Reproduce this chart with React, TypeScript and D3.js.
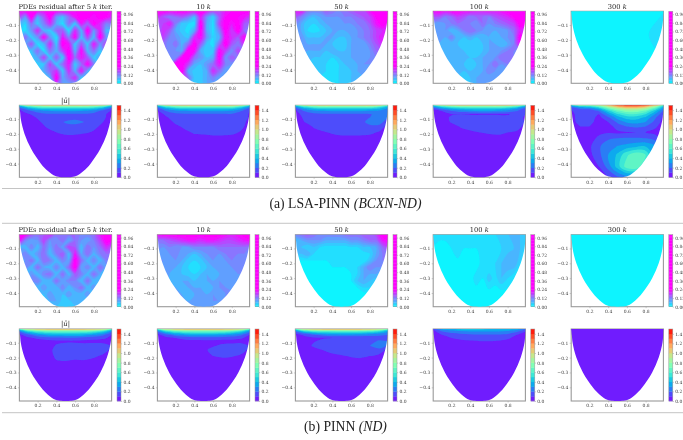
import * as d3 from "d3";
import { useEffect, useRef } from "react";

// residual fields, in hundredths, 16 columns across x = 0..1 and 12 rows down to y = -0.5
const resLsa5k = [
  [24, 26, 26, 26, 24, 26, 26, 26, 26, 24, 26, 26, 26, 26, 26, 22],
  [18, 10, 26, 8, 16, 26, 10, 6, 14, 22, 26, 26, 22, 26, 24, 20],
  [8, 4, 14, 5, 12, 20, 8, 3, 14, 5, 22, 14, 26, 20, 12, 14],
  [5, 3, 10, 20, 7, 5, 14, 16, 3, 20, 7, 26, 10, 22, 7, 8],
  [5, 14, 5, 10, 24, 10, 3, 22, 12, 24, 5, 18, 6, 26, 10, 8],
  [5, 8, 16, 3, 7, 20, 5, 26, 22, 5, 16, 5, 22, 10, 18, 7],
  [5, 6, 6, 14, 3, 14, 7, 18, 26, 7, 24, 7, 14, 5, 14, 6],
  [5, 5, 5, 8, 18, 5, 16, 5, 26, 14, 22, 16, 5, 8, 5, 5],
  [5, 5, 5, 5, 6, 18, 5, 14, 22, 5, 14, 24, 12, 5, 5, 5],
  [5, 5, 5, 5, 8, 14, 20, 5, 20, 8, 22, 8, 5, 5, 5, 5],
  [5, 5, 5, 5, 5, 8, 26, 8, 14, 20, 5, 8, 5, 5, 5, 5],
  [5, 5, 5, 5, 5, 5, 16, 10, 8, 8, 5, 5, 5, 5, 5, 5],
];
const resLsa10k = [
  [26, 26, 26, 26, 26, 26, 26, 26, 24, 20, 18, 22, 24, 24, 26, 26],
  [20, 16, 12, 14, 16, 12, 6, 22, 10, 4, 16, 24, 26, 24, 22, 18],
  [14, 18, 22, 12, 5, 4, 3, 26, 8, 3, 18, 26, 22, 26, 16, 14],
  [12, 20, 16, 8, 5, 3, 8, 26, 8, 3, 12, 26, 18, 26, 14, 12],
  [12, 18, 12, 10, 7, 5, 20, 24, 10, 4, 8, 24, 20, 16, 24, 12],
  [12, 14, 10, 14, 7, 14, 26, 16, 5, 3, 14, 26, 16, 12, 20, 12],
  [12, 14, 10, 10, 8, 26, 24, 8, 4, 5, 24, 18, 10, 18, 12, 10],
  [12, 12, 10, 10, 24, 26, 14, 10, 6, 8, 26, 10, 16, 12, 10, 10],
  [12, 12, 12, 26, 26, 18, 8, 6, 10, 14, 22, 12, 10, 10, 10, 10],
  [12, 12, 12, 26, 26, 8, 5, 5, 8, 20, 14, 8, 8, 8, 8, 8],
  [12, 12, 12, 12, 20, 14, 5, 5, 8, 12, 8, 8, 8, 8, 8, 8],
  [10, 10, 10, 10, 10, 8, 5, 5, 8, 8, 8, 8, 8, 8, 8, 8],
];
const resLsa50k = [
  [22, 24, 14, 12, 12, 16, 14, 12, 14, 16, 18, 18, 24, 26, 26, 26],
  [16, 12, 8, 6, 8, 10, 10, 10, 12, 12, 14, 16, 18, 24, 26, 26],
  [12, 8, 4, 4, 6, 8, 8, 8, 10, 10, 12, 12, 16, 22, 26, 22],
  [10, 8, 4, 3, 4, 6, 8, 8, 8, 8, 10, 12, 14, 18, 20, 20],
  [10, 10, 6, 6, 6, 8, 8, 6, 6, 8, 10, 12, 14, 18, 22, 20],
  [10, 10, 8, 8, 8, 8, 6, 5, 5, 8, 8, 8, 12, 16, 20, 20],
  [8, 8, 8, 8, 8, 6, 8, 6, 6, 8, 8, 8, 10, 14, 16, 14],
  [8, 8, 6, 6, 6, 5, 4, 6, 6, 8, 8, 8, 10, 12, 12, 12],
  [6, 6, 6, 5, 5, 4, 3, 4, 6, 6, 8, 10, 10, 10, 10, 10],
  [6, 6, 6, 5, 5, 4, 3, 4, 5, 6, 8, 8, 8, 8, 8, 8],
  [6, 6, 6, 5, 4, 3, 3, 4, 5, 6, 6, 8, 8, 8, 8, 8],
  [6, 6, 6, 5, 4, 3, 3, 4, 5, 6, 6, 8, 8, 8, 8, 8],
];
const resLsa100k = [
  [24, 26, 24, 26, 26, 24, 24, 22, 22, 24, 22, 24, 26, 26, 26, 26],
  [16, 16, 12, 14, 18, 16, 12, 14, 14, 12, 16, 18, 20, 24, 26, 26],
  [10, 8, 10, 12, 14, 12, 12, 10, 14, 10, 12, 14, 16, 18, 26, 24],
  [8, 8, 10, 6, 8, 12, 14, 12, 10, 8, 8, 8, 10, 14, 22, 18],
  [8, 8, 8, 12, 6, 6, 8, 6, 6, 8, 6, 8, 10, 12, 26, 16],
  [8, 8, 6, 6, 6, 4, 4, 4, 6, 8, 8, 6, 8, 12, 22, 14],
  [8, 6, 6, 8, 8, 6, 4, 4, 6, 8, 8, 10, 12, 12, 10, 10],
  [6, 6, 6, 6, 6, 6, 6, 6, 8, 8, 10, 14, 14, 12, 8, 8],
  [6, 6, 6, 6, 6, 6, 5, 6, 8, 10, 14, 10, 12, 10, 8, 8],
  [6, 6, 6, 6, 6, 6, 6, 6, 8, 12, 10, 8, 8, 8, 8, 8],
  [6, 6, 6, 6, 6, 5, 6, 8, 8, 8, 8, 8, 8, 8, 8, 8],
  [6, 6, 6, 6, 6, 5, 6, 8, 8, 8, 8, 8, 8, 8, 8, 8],
];
const resLsa300k = [
  [1, 1, 1, 1, 2],
  [1, 1, 1, 1, 4],
  [1, 1, 1, 1, 2],
  [1, 1, 1, 1, 1],
];
const resPinn5k = [
  [24, 26, 18, 14, 16, 22, 14, 12, 14, 14, 12, 12, 14, 22, 26, 26],
  [24, 12, 8, 10, 18, 10, 10, 14, 8, 14, 10, 8, 12, 18, 26, 24],
  [8, 6, 12, 6, 14, 8, 14, 8, 18, 16, 6, 14, 10, 14, 20, 16],
  [8, 12, 6, 10, 14, 6, 12, 16, 6, 22, 8, 14, 7, 12, 14, 14],
  [6, 10, 14, 6, 14, 12, 6, 12, 8, 26, 14, 6, 12, 6, 12, 10],
  [6, 12, 6, 14, 8, 6, 12, 6, 14, 26, 8, 12, 6, 14, 8, 8],
  [6, 6, 10, 6, 12, 14, 6, 14, 6, 16, 12, 6, 14, 8, 6, 6],
  [6, 6, 10, 12, 6, 6, 14, 8, 12, 12, 6, 14, 6, 6, 6, 6],
  [6, 6, 6, 6, 10, 6, 6, 12, 6, 10, 14, 6, 10, 6, 6, 6],
  [6, 6, 6, 6, 6, 10, 6, 6, 10, 6, 6, 10, 6, 6, 6, 6],
  [5, 5, 5, 5, 5, 8, 8, 5, 5, 8, 8, 5, 5, 5, 5, 5],
  [5, 5, 5, 5, 5, 5, 5, 5, 5, 5, 5, 5, 5, 5, 5, 5],
];
const resPinn10k = [
  [24, 26, 26, 26, 26, 26, 26, 26, 26, 26, 26, 24, 22, 24, 26, 26],
  [14, 14, 16, 18, 20, 22, 22, 20, 22, 22, 20, 18, 18, 20, 22, 24],
  [10, 10, 12, 10, 10, 10, 12, 12, 12, 12, 14, 14, 14, 14, 14, 12],
  [10, 8, 10, 12, 8, 8, 6, 8, 10, 10, 10, 12, 12, 12, 12, 10],
  [10, 10, 8, 10, 8, 5, 4, 5, 8, 10, 8, 10, 12, 10, 10, 10],
  [10, 8, 10, 8, 6, 4, 3, 4, 6, 8, 10, 8, 10, 12, 10, 10],
  [10, 8, 8, 6, 6, 5, 4, 6, 8, 6, 8, 10, 8, 10, 10, 10],
  [10, 10, 8, 6, 8, 8, 6, 6, 8, 8, 10, 8, 10, 8, 8, 8],
  [10, 10, 10, 8, 6, 8, 8, 8, 6, 8, 10, 10, 8, 8, 8, 8],
  [10, 10, 10, 8, 8, 6, 8, 8, 8, 10, 8, 10, 12, 10, 8, 8],
  [8, 8, 8, 8, 8, 8, 8, 8, 8, 10, 10, 14, 10, 8, 8, 8],
  [8, 8, 8, 8, 8, 8, 8, 8, 8, 8, 8, 8, 8, 8, 8, 8],
];
const resPinn50k = [
  [12, 14, 16, 14, 12, 12, 12, 12, 14, 14, 14, 16, 16, 18, 26, 26],
  [6, 8, 10, 10, 10, 8, 8, 8, 8, 10, 10, 12, 14, 14, 22, 24],
  [8, 6, 4, 6, 4, 3, 3, 3, 3, 4, 4, 6, 6, 8, 14, 18],
  [6, 6, 8, 4, 3, 2, 2, 2, 2, 2, 2, 3, 4, 8, 12, 14],
  [2, 2, 2, 2, 2, 2, 2, 2, 2, 2, 2, 2, 6, 10, 12, 12],
  [1, 1, 1, 1, 1, 1, 2, 2, 2, 2, 4, 8, 12, 10, 10, 10],
  [1, 1, 1, 1, 1, 1, 1, 1, 1, 2, 4, 8, 8, 8, 6, 6],
  [1, 1, 1, 1, 1, 1, 1, 1, 1, 2, 6, 8, 6, 4, 4, 4],
  [1, 1, 1, 1, 1, 1, 1, 1, 1, 1, 2, 4, 4, 3, 2, 2],
  [1, 1, 1, 1, 1, 1, 1, 1, 1, 1, 1, 1, 1, 1, 1, 1],
  [1, 1, 1, 1, 1, 1, 1, 1, 1, 1, 1, 1, 1, 1, 1, 1],
  [1, 1, 1, 1, 1, 1, 1, 1, 1, 1, 1, 1, 1, 1, 1, 1],
];
const resPinn100k = [
  [4, 3, 3, 3, 3, 3, 4, 3, 3, 3, 4, 4, 6, 6, 6, 4],
  [2, 1, 1, 2, 4, 2, 2, 2, 2, 2, 3, 4, 5, 6, 6, 3],
  [1, 1, 1, 1, 1, 1, 1, 1, 3, 2, 4, 6, 8, 8, 4, 2],
  [1, 1, 1, 1, 1, 1, 1, 3, 2, 5, 3, 6, 4, 2, 1, 1],
  [1, 1, 1, 1, 1, 1, 1, 1, 1, 1, 1, 1, 1, 1, 1, 1],
  [1, 1, 1, 1, 1, 1, 1, 1, 1, 1, 1, 1, 1, 1, 1, 1],
];
const resPinn300k = [
  [1, 1],
  [1, 1],
];

// velocity depths for the rows of the velocity fields (the top layer is very thin)
const velocityDepths = [0, 0.007, 0.014, 0.024, 0.034, 0.047, 0.068, 0.09, 0.12, 0.15, 0.19, 0.23, 0.28, 0.34, 0.42, 0.5];

// |u| fields, 11 columns across x = 0..1, rows at velocityDepths
const velLsa5k = [
  [1, 1.4, 1.45, 1.45, 1.45, 1.45, 1.45, 1.45, 1.45, 1.4, 1],
  [0.6, 0.95, 1, 1.05, 1.05, 1.05, 1.05, 1.05, 1, 0.95, 0.6],
  [0.35, 0.65, 0.75, 0.8, 0.8, 0.8, 0.8, 0.8, 0.75, 0.65, 0.35],
  [0.2, 0.4, 0.52, 0.55, 0.55, 0.55, 0.55, 0.55, 0.52, 0.4, 0.2],
  [0.1, 0.27, 0.37, 0.4, 0.42, 0.42, 0.42, 0.4, 0.37, 0.27, 0.1],
  [0.07, 0.15, 0.25, 0.28, 0.3, 0.3, 0.3, 0.28, 0.25, 0.15, 0.08],
  [0.05, 0.09, 0.14, 0.18, 0.18, 0.18, 0.18, 0.18, 0.16, 0.12, 0.06],
  [0.04, 0.06, 0.11, 0.15, 0.15, 0.16, 0.17, 0.17, 0.15, 0.12, 0.05],
  [0.03, 0.05, 0.08, 0.14, 0.17, 0.21, 0.23, 0.2, 0.15, 0.1, 0.05],
  [0.03, 0.05, 0.06, 0.11, 0.15, 0.17, 0.17, 0.16, 0.12, 0.08, 0.05],
  [0.02, 0.04, 0.05, 0.07, 0.1, 0.12, 0.12, 0.11, 0.09, 0.06, 0.04],
  [0.02, 0.03, 0.04, 0.05, 0.06, 0.07, 0.07, 0.06, 0.05, 0.04, 0.03],
  [0.02, 0.03, 0.04, 0.04, 0.05, 0.05, 0.05, 0.05, 0.04, 0.03, 0.03],
  [0.02, 0.03, 0.03, 0.04, 0.04, 0.04, 0.04, 0.04, 0.03, 0.03, 0.02],
  [0.02, 0.02, 0.03, 0.03, 0.03, 0.03, 0.03, 0.03, 0.03, 0.02, 0.02],
  [0.02, 0.02, 0.02, 0.02, 0.02, 0.02, 0.02, 0.02, 0.02, 0.02, 0.02],
];
const velLsa10k = [
  [1, 1.4, 1.45, 1.45, 1.45, 1.45, 1.45, 1.45, 1.45, 1.4, 1],
  [0.6, 0.95, 1, 1.05, 1.05, 1.05, 1.05, 1.05, 1.05, 0.95, 0.6],
  [0.35, 0.65, 0.75, 0.8, 0.8, 0.8, 0.8, 0.8, 0.8, 0.65, 0.35],
  [0.2, 0.42, 0.52, 0.55, 0.55, 0.55, 0.55, 0.55, 0.55, 0.42, 0.2],
  [0.1, 0.3, 0.37, 0.4, 0.42, 0.42, 0.42, 0.42, 0.4, 0.3, 0.12],
  [0.07, 0.2, 0.26, 0.28, 0.3, 0.3, 0.3, 0.3, 0.28, 0.2, 0.1],
  [0.05, 0.12, 0.17, 0.18, 0.18, 0.18, 0.18, 0.18, 0.18, 0.16, 0.08],
  [0.04, 0.09, 0.14, 0.16, 0.17, 0.17, 0.18, 0.18, 0.18, 0.16, 0.08],
  [0.03, 0.05, 0.12, 0.14, 0.15, 0.15, 0.15, 0.15, 0.15, 0.13, 0.07],
  [0.03, 0.05, 0.08, 0.12, 0.14, 0.14, 0.14, 0.14, 0.14, 0.12, 0.06],
  [0.02, 0.04, 0.06, 0.08, 0.11, 0.11, 0.12, 0.12, 0.12, 0.09, 0.05],
  [0.02, 0.03, 0.05, 0.06, 0.07, 0.08, 0.08, 0.08, 0.07, 0.05, 0.04],
  [0.02, 0.03, 0.04, 0.04, 0.05, 0.05, 0.05, 0.05, 0.04, 0.03, 0.03],
  [0.02, 0.03, 0.03, 0.04, 0.04, 0.04, 0.04, 0.04, 0.03, 0.03, 0.02],
  [0.02, 0.02, 0.03, 0.03, 0.03, 0.03, 0.03, 0.03, 0.03, 0.02, 0.02],
  [0.02, 0.02, 0.02, 0.02, 0.02, 0.02, 0.02, 0.02, 0.02, 0.02, 0.02],
];
const velLsa50k = [
  [1, 1.4, 1.45, 1.45, 1.45, 1.45, 1.45, 1.45, 1.45, 1.4, 1],
  [0.6, 0.95, 1, 1.05, 1.05, 1.05, 1.05, 1.05, 1.05, 1, 0.7],
  [0.35, 0.65, 0.75, 0.8, 0.8, 0.8, 0.8, 0.8, 0.8, 0.7, 0.45],
  [0.2, 0.42, 0.52, 0.55, 0.55, 0.55, 0.55, 0.55, 0.55, 0.48, 0.32],
  [0.1, 0.3, 0.37, 0.4, 0.42, 0.42, 0.42, 0.42, 0.4, 0.36, 0.26],
  [0.07, 0.2, 0.26, 0.28, 0.3, 0.3, 0.3, 0.3, 0.28, 0.26, 0.24],
  [0.05, 0.14, 0.17, 0.18, 0.18, 0.18, 0.18, 0.18, 0.19, 0.24, 0.22],
  [0.04, 0.12, 0.15, 0.16, 0.17, 0.17, 0.18, 0.18, 0.2, 0.25, 0.2],
  [0.03, 0.1, 0.14, 0.15, 0.15, 0.15, 0.15, 0.17, 0.23, 0.26, 0.12],
  [0.03, 0.05, 0.11, 0.14, 0.14, 0.14, 0.14, 0.15, 0.18, 0.16, 0.06],
  [0.02, 0.04, 0.07, 0.09, 0.11, 0.12, 0.12, 0.12, 0.12, 0.09, 0.05],
  [0.02, 0.03, 0.05, 0.06, 0.07, 0.08, 0.08, 0.08, 0.07, 0.05, 0.04],
  [0.02, 0.03, 0.04, 0.04, 0.05, 0.05, 0.05, 0.05, 0.04, 0.03, 0.03],
  [0.02, 0.03, 0.03, 0.04, 0.04, 0.04, 0.04, 0.04, 0.03, 0.03, 0.02],
  [0.02, 0.02, 0.03, 0.03, 0.03, 0.03, 0.03, 0.03, 0.03, 0.02, 0.02],
  [0.02, 0.02, 0.02, 0.02, 0.02, 0.02, 0.02, 0.02, 0.02, 0.02, 0.02],
];
const velLsa100k = [
  [1, 1.4, 1.45, 1.45, 1.45, 1.45, 1.45, 1.45, 1.45, 1.4, 1],
  [0.6, 0.95, 1, 1.05, 1.05, 1.05, 1.05, 1.05, 1.05, 0.95, 0.6],
  [0.35, 0.6, 0.72, 0.78, 0.8, 0.8, 0.8, 0.8, 0.75, 0.65, 0.35],
  [0.2, 0.38, 0.48, 0.52, 0.55, 0.55, 0.55, 0.55, 0.5, 0.4, 0.2],
  [0.1, 0.22, 0.32, 0.37, 0.4, 0.42, 0.42, 0.4, 0.36, 0.27, 0.12],
  [0.07, 0.1, 0.18, 0.24, 0.28, 0.3, 0.3, 0.28, 0.25, 0.19, 0.11],
  [0.05, 0.06, 0.09, 0.1, 0.09, 0.09, 0.09, 0.09, 0.09, 0.14, 0.1],
  [0.04, 0.05, 0.12, 0.14, 0.14, 0.14, 0.14, 0.14, 0.13, 0.14, 0.08],
  [0.03, 0.05, 0.11, 0.15, 0.15, 0.16, 0.16, 0.17, 0.17, 0.19, 0.07],
  [0.03, 0.04, 0.06, 0.11, 0.14, 0.15, 0.16, 0.17, 0.18, 0.15, 0.05],
  [0.02, 0.03, 0.04, 0.06, 0.08, 0.1, 0.11, 0.12, 0.1, 0.08, 0.04],
  [0.02, 0.03, 0.04, 0.04, 0.05, 0.06, 0.07, 0.07, 0.06, 0.04, 0.03],
  [0.02, 0.03, 0.03, 0.04, 0.04, 0.05, 0.05, 0.05, 0.04, 0.03, 0.03],
  [0.02, 0.03, 0.03, 0.04, 0.04, 0.04, 0.04, 0.04, 0.03, 0.03, 0.02],
  [0.02, 0.02, 0.03, 0.03, 0.03, 0.03, 0.03, 0.03, 0.03, 0.02, 0.02],
  [0.02, 0.02, 0.02, 0.02, 0.02, 0.02, 0.02, 0.02, 0.02, 0.02, 0.02],
];
const velLsa300k = [
  [0.9, 1.05, 1.1, 1.2, 1.3, 1.45, 1.5, 1.5, 1.45, 1.3, 0.9],
  [0.5, 0.8, 0.8, 0.9, 1.1, 1.3, 1.42, 1.42, 1.35, 1.1, 0.6],
  [0.3, 0.5, 0.55, 0.7, 0.95, 1.15, 1.25, 1.25, 1.15, 0.9, 0.4],
  [0.15, 0.28, 0.32, 0.5, 0.75, 0.95, 1.05, 1.05, 0.95, 0.7, 0.3],
  [0.12, 0.18, 0.2, 0.32, 0.6, 0.8, 0.9, 0.9, 0.8, 0.55, 0.22],
  [0.08, 0.18, 0.15, 0.2, 0.45, 0.65, 0.75, 0.75, 0.65, 0.42, 0.15],
  [0.05, 0.17, 0.15, 0.1, 0.3, 0.48, 0.58, 0.58, 0.5, 0.3, 0.1],
  [0.04, 0.17, 0.15, 0.07, 0.18, 0.35, 0.45, 0.45, 0.38, 0.22, 0.06],
  [0.03, 0.16, 0.14, 0.05, 0.1, 0.22, 0.32, 0.34, 0.3, 0.17, 0.05],
  [0.03, 0.1, 0.1, 0.05, 0.06, 0.14, 0.2, 0.22, 0.2, 0.12, 0.04],
  [0.03, 0.05, 0.05, 0.08, 0.09, 0.08, 0.09, 0.1, 0.1, 0.07, 0.03],
  [0.03, 0.05, 0.06, 0.12, 0.18, 0.2, 0.21, 0.21, 0.2, 0.16, 0.05],
  [0.03, 0.05, 0.08, 0.18, 0.27, 0.3, 0.33, 0.36, 0.38, 0.3, 0.06],
  [0.03, 0.05, 0.07, 0.17, 0.3, 0.42, 0.58, 0.68, 0.6, 0.3, 0.05],
  [0.03, 0.04, 0.05, 0.1, 0.24, 0.45, 0.66, 0.7, 0.45, 0.1, 0.03],
  [0.03, 0.03, 0.04, 0.05, 0.08, 0.15, 0.2, 0.15, 0.06, 0.03, 0.03],
];
const velPinn5k = [
  [1.1, 1.45, 1.48, 1.48, 1.48, 1.48, 1.48, 1.48, 1.48, 1.45, 1.1],
  [0.7, 1.05, 1.12, 1.15, 1.15, 1.15, 1.15, 1.15, 1.12, 1.05, 0.7],
  [0.42, 0.75, 0.88, 0.92, 0.92, 0.92, 0.92, 0.92, 0.88, 0.75, 0.42],
  [0.22, 0.5, 0.62, 0.66, 0.68, 0.68, 0.68, 0.68, 0.62, 0.5, 0.25],
  [0.12, 0.32, 0.44, 0.5, 0.52, 0.52, 0.52, 0.5, 0.44, 0.35, 0.16],
  [0.07, 0.18, 0.28, 0.34, 0.36, 0.36, 0.36, 0.35, 0.3, 0.22, 0.1],
  [0.05, 0.08, 0.12, 0.15, 0.17, 0.18, 0.18, 0.16, 0.14, 0.12, 0.07],
  [0.04, 0.05, 0.06, 0.07, 0.08, 0.08, 0.08, 0.07, 0.07, 0.06, 0.05],
  [0.03, 0.04, 0.05, 0.05, 0.11, 0.14, 0.14, 0.14, 0.15, 0.15, 0.1],
  [0.03, 0.03, 0.04, 0.06, 0.13, 0.15, 0.15, 0.15, 0.15, 0.14, 0.07],
  [0.02, 0.03, 0.04, 0.05, 0.12, 0.14, 0.13, 0.14, 0.12, 0.08, 0.04],
  [0.02, 0.03, 0.03, 0.04, 0.09, 0.09, 0.08, 0.08, 0.06, 0.04, 0.03],
  [0.02, 0.02, 0.03, 0.03, 0.04, 0.05, 0.05, 0.04, 0.04, 0.03, 0.02],
  [0.02, 0.02, 0.03, 0.03, 0.04, 0.04, 0.04, 0.04, 0.03, 0.03, 0.02],
  [0.02, 0.02, 0.02, 0.03, 0.03, 0.03, 0.03, 0.03, 0.03, 0.02, 0.02],
  [0.02, 0.02, 0.02, 0.02, 0.02, 0.02, 0.02, 0.02, 0.02, 0.02, 0.02],
];
const velPinn10k = [
  [1.1, 1.45, 1.48, 1.48, 1.48, 1.48, 1.48, 1.48, 1.48, 1.45, 1.1],
  [0.7, 1.05, 1.12, 1.15, 1.15, 1.15, 1.15, 1.15, 1.12, 1.05, 0.7],
  [0.42, 0.75, 0.88, 0.92, 0.92, 0.92, 0.92, 0.92, 0.88, 0.75, 0.42],
  [0.22, 0.5, 0.62, 0.66, 0.68, 0.68, 0.68, 0.68, 0.62, 0.5, 0.25],
  [0.12, 0.32, 0.44, 0.5, 0.52, 0.52, 0.52, 0.5, 0.44, 0.35, 0.16],
  [0.07, 0.16, 0.26, 0.32, 0.34, 0.34, 0.34, 0.33, 0.28, 0.22, 0.1],
  [0.05, 0.07, 0.1, 0.13, 0.15, 0.16, 0.16, 0.14, 0.13, 0.11, 0.07],
  [0.04, 0.05, 0.06, 0.07, 0.07, 0.07, 0.07, 0.07, 0.07, 0.07, 0.06],
  [0.03, 0.04, 0.05, 0.05, 0.06, 0.07, 0.09, 0.12, 0.13, 0.14, 0.1],
  [0.03, 0.03, 0.04, 0.05, 0.05, 0.08, 0.13, 0.15, 0.15, 0.14, 0.07],
  [0.02, 0.03, 0.04, 0.04, 0.05, 0.07, 0.1, 0.12, 0.11, 0.08, 0.04],
  [0.02, 0.03, 0.03, 0.04, 0.04, 0.05, 0.05, 0.05, 0.05, 0.04, 0.03],
  [0.02, 0.02, 0.03, 0.03, 0.04, 0.04, 0.04, 0.04, 0.04, 0.03, 0.02],
  [0.02, 0.02, 0.03, 0.03, 0.04, 0.04, 0.04, 0.04, 0.03, 0.03, 0.02],
  [0.02, 0.02, 0.02, 0.03, 0.03, 0.03, 0.03, 0.03, 0.03, 0.02, 0.02],
  [0.02, 0.02, 0.02, 0.02, 0.02, 0.02, 0.02, 0.02, 0.02, 0.02, 0.02],
];
const velPinn50k = [
  [1.1, 1.45, 1.48, 1.48, 1.48, 1.48, 1.48, 1.48, 1.48, 1.45, 1.1],
  [0.7, 1.05, 1.12, 1.15, 1.15, 1.15, 1.15, 1.15, 1.12, 1.05, 0.75],
  [0.42, 0.75, 0.85, 0.9, 0.9, 0.9, 0.9, 0.9, 0.86, 0.75, 0.5],
  [0.22, 0.45, 0.56, 0.6, 0.62, 0.62, 0.62, 0.62, 0.58, 0.5, 0.32],
  [0.12, 0.26, 0.36, 0.42, 0.44, 0.45, 0.45, 0.44, 0.4, 0.34, 0.26],
  [0.07, 0.12, 0.2, 0.25, 0.27, 0.28, 0.28, 0.27, 0.25, 0.22, 0.2],
  [0.05, 0.06, 0.08, 0.09, 0.1, 0.1, 0.1, 0.1, 0.11, 0.15, 0.16],
  [0.04, 0.05, 0.09, 0.13, 0.14, 0.14, 0.14, 0.14, 0.15, 0.22, 0.2],
  [0.03, 0.04, 0.12, 0.15, 0.16, 0.16, 0.16, 0.16, 0.2, 0.26, 0.18],
  [0.03, 0.03, 0.05, 0.1, 0.14, 0.15, 0.16, 0.17, 0.18, 0.16, 0.06],
  [0.02, 0.03, 0.04, 0.05, 0.07, 0.09, 0.11, 0.12, 0.1, 0.07, 0.04],
  [0.02, 0.03, 0.03, 0.04, 0.05, 0.05, 0.06, 0.06, 0.05, 0.04, 0.03],
  [0.02, 0.02, 0.03, 0.03, 0.04, 0.04, 0.04, 0.04, 0.04, 0.03, 0.02],
  [0.02, 0.02, 0.03, 0.03, 0.04, 0.04, 0.04, 0.04, 0.03, 0.03, 0.02],
  [0.02, 0.02, 0.02, 0.03, 0.03, 0.03, 0.03, 0.03, 0.03, 0.02, 0.02],
  [0.02, 0.02, 0.02, 0.02, 0.02, 0.02, 0.02, 0.02, 0.02, 0.02, 0.02],
];
const velPinn100k = [
  [0.3, 0.45, 0.5, 0.55, 0.55, 0.55, 0.55, 0.5, 0.5, 0.5, 0.3],
  [0.15, 0.35, 0.4, 0.45, 0.45, 0.45, 0.42, 0.42, 0.42, 0.38, 0.2],
  [0.08, 0.28, 0.32, 0.35, 0.38, 0.38, 0.36, 0.36, 0.34, 0.3, 0.15],
  [0.05, 0.2, 0.25, 0.28, 0.3, 0.3, 0.3, 0.3, 0.28, 0.22, 0.1],
  [0.04, 0.14, 0.2, 0.22, 0.24, 0.24, 0.25, 0.25, 0.24, 0.15, 0.06],
  [0.03, 0.1, 0.15, 0.17, 0.18, 0.19, 0.19, 0.19, 0.17, 0.1, 0.05],
  [0.03, 0.05, 0.1, 0.13, 0.14, 0.15, 0.15, 0.15, 0.12, 0.06, 0.04],
  [0.03, 0.04, 0.05, 0.07, 0.09, 0.1, 0.1, 0.09, 0.07, 0.05, 0.04],
  [0.03, 0.03, 0.03, 0.04, 0.04, 0.05, 0.05, 0.05, 0.04, 0.03, 0.03],
  [0.03, 0.03, 0.03, 0.03, 0.03, 0.03, 0.03, 0.03, 0.03, 0.03, 0.03],
  [0.03, 0.03, 0.03, 0.03, 0.03, 0.03, 0.03, 0.03, 0.03, 0.03, 0.03],
  [0.03, 0.03, 0.03, 0.03, 0.03, 0.03, 0.03, 0.03, 0.03, 0.03, 0.03],
  [0.03, 0.03, 0.03, 0.03, 0.03, 0.03, 0.03, 0.03, 0.03, 0.03, 0.03],
  [0.03, 0.03, 0.03, 0.03, 0.03, 0.03, 0.03, 0.03, 0.03, 0.03, 0.03],
  [0.03, 0.03, 0.03, 0.03, 0.03, 0.03, 0.03, 0.03, 0.03, 0.03, 0.03],
  [0.03, 0.03, 0.03, 0.03, 0.03, 0.03, 0.03, 0.03, 0.03, 0.03, 0.03],
];
const velPinn300k = [
  [0.03, 0.03],
  [0.03, 0.03],
];

const residualRows = [
  [resLsa5k, resLsa10k, resLsa50k, resLsa100k, resLsa300k],
  [resPinn5k, resPinn10k, resPinn50k, resPinn100k, resPinn300k],
];
const velocityRows = [
  [velLsa5k, velLsa10k, velLsa50k, velLsa100k, velLsa300k],
  [velPinn5k, velPinn10k, velPinn50k, velPinn100k, velPinn300k],
];

// outline of the cavity
const bowlX = [0.005, 0.012, 0.02, 0.06, 0.13, 0.235, 0.31, 0.39, 0.45, 0.5, 0.55, 0.61, 0.69, 0.765, 0.87, 0.94, 0.98, 0.988, 0.99];
const bowlY = [-0.0075, -0.05, -0.1, -0.2, -0.3, -0.4, -0.45, -0.484, -0.491, -0.492, -0.491, -0.484, -0.45, -0.4, -0.3, -0.2, -0.1, -0.05, -0.0075];

const iterations = ["5", "10", "50", "100", "300"];
const xTicks = [0.2, 0.4, 0.6, 0.8];
const yTicks = [-0.1, -0.2, -0.3, -0.4];
const residualTicks = [0, 0.12, 0.24, 0.36, 0.48, 0.6, 0.72, 0.84, 0.96];
const velocityTicks = [0, 0.2, 0.4, 0.6, 0.8, 1, 1.2, 1.4];
const residualLevels = d3.range(0, 1, 0.02);
const velocityLevels = d3.range(0, 1.5, 0.1);

// matplotlib "rainbow" sampled at equal steps
const rainbowStops = ["#8000ff", "#4062fa", "#00b4ec", "#40ecd4", "#80ffb4", "#c0ec8e", "#ffb462", "#ff6232", "#ff0000"];
const rainbow = d3.piecewise(d3.interpolateRgb, rainbowStops);
const coolScale = d3.scaleLinear<string>().domain([0, 0.24]).range(["#00ffff", "#ff00ff"]).clamp(true);

const columnLeft = [19.4, 157.4, 295.4, 433.2, 571.2];
const rowTop = [11.3, 105.3, 234.7, 329];
const panelW = 92.2;
const panelH = 72;
const GREY = "#9a9a9a";
const SERIF = "'DejaVu Serif', serif";
const TICK_FONT = 4.5;

const ringLine = d3.line().curve(d3.curveCatmullRomClosed.alpha(0.5));

// one filled contour field, painted lowest level first
function drawField(g: any, grid: number[][], unit: number, depths: number[] | null, x: any, y: any, levels: number[], color: (l: number) => string) {
  const n = grid[0].length;
  const m = grid.length;
  const xs = d3.range(n).map((i) => i / (n - 1));
  const ds = depths || d3.range(m).map((i) => (i / (m - 1)) * 0.5);

  // repeat the edges so the blur does not fade at the frame
  const padded: number[][] = [grid[0], ...grid, grid[m - 1]].map((r) => [r[0], ...r, r[n - 1]]);
  const values = padded.flat().map((v) => v * unit);

  const toX = d3.scaleLinear()
    .domain(d3.range(n + 2).map((i) => i + 0.5))
    .range([x(-0.08), ...xs.map((v) => x(v)), x(1.08)]);
  const toY = d3.scaleLinear()
    .domain(d3.range(m + 2).map((i) => i + 0.5))
    .range([y(0.08), ...ds.map((v) => y(-v)), y(-0.58)]);

  const contours = d3.contours().size([n + 2, m + 2]).thresholds(levels)(values);
  contours.forEach((c: any, i: number) => {
    const parts: string[] = [];
    c.coordinates.forEach((poly: number[][][]) => {
      poly.forEach((ring) => {
        const pts = ring.slice(0, -1).map((p) => [toX(p[0]), toY(p[1])] as [number, number]);
        parts.push(ringLine(pts) as string);
      });
    });
    if (!parts.length) return;
    g.append("path")
      .attr("d", parts.join(""))
      .attr("fill-rule", "evenodd")
      .attr("fill", color(levels[i]));
  });
}

function styleAxis(a: any) {
  a.select(".domain").remove();
  a.selectAll("line").attr("stroke", GREY).attr("stroke-width", 0.5);
  a.selectAll("text").attr("fill", "#3c3c3c").attr("font-size", TICK_FONT).attr("font-family", SERIF);
}

const App = () => {
  const ref = useRef<SVGSVGElement | null>(null);

  useEffect(() => {
    const svg = d3.select(ref.current);
    svg.selectAll("*").remove();

    const defs = svg.append("defs");
    defs.append("filter").attr("id", "blurRes").append("feGaussianBlur").attr("stdDeviation", 0.7);
    defs.append("filter").attr("id", "blurVel").append("feGaussianBlur").attr("stdDeviation", 0.45);
    defs.append("filter").attr("id", "blurText").append("feGaussianBlur").attr("stdDeviation", 0.22);

    const soft = svg.append("g").attr("filter", "url(#blurText)");

    rowTop.forEach((top, r) => {
      const isResidual = r % 2 === 0;
      const block = Math.floor(r / 2);
      columnLeft.forEach((left, c) => {
        const x = d3.scaleLinear().domain([0.005, 0.99]).range([left, left + panelW]);
        const y = d3.scaleLinear().domain([-0.0075, -0.492]).range([top, top + panelH]);
        const grid = isResidual ? residualRows[block][c] : velocityRows[block][c];
        const levels = isResidual ? residualLevels : velocityLevels;
        const step = isResidual ? 0.02 : 0.1;
        const max = isResidual ? 1 : 1.5;
        const color = (l: number) => (isResidual ? coolScale(l + step / 2) : rainbow((l + step / 2) / max));

        const clipId = `bowl-${r}-${c}`;
        const outline = d3.line<number>()
          .x((i) => x(bowlX[i]))
          .y((i) => y(bowlY[i]))
          .curve(d3.curveCatmullRom)(d3.range(bowlX.length));
        defs.append("clipPath").attr("id", clipId).append("path").attr("d", outline + "Z");

        const clipped = svg.append("g").attr("clip-path", `url(#${clipId})`);
        const field = clipped.append("g").attr("filter", isResidual ? "url(#blurRes)" : "url(#blurVel)");
        const hasDepths = !isResidual && grid.length === velocityDepths.length;
        drawField(field, grid, isResidual ? 0.01 : 1, hasDepths ? velocityDepths : null, x, y, levels, color);

        // frame
        soft.append("rect")
          .attr("x", left).attr("y", top)
          .attr("width", panelW).attr("height", panelH)
          .attr("fill", "none").attr("stroke", GREY).attr("stroke-width", 1.1);

        soft.append("g")
          .attr("transform", `translate(0,${top + panelH})`)
          .call(d3.axisBottom(x).tickValues(xTicks).tickFormat(d3.format(".1f") as any).tickSize(1.5).tickPadding(1.6))
          .call(styleAxis);
        soft.append("g")
          .attr("transform", `translate(${left},0)`)
          .call(d3.axisLeft(y).tickValues(yTicks).tickFormat(d3.format(".1f") as any).tickSize(1.5).tickPadding(1.4))
          .call(styleAxis);

        // colour bar
        const barX = left + 97.6;
        const barW = 4;
        const cb = d3.scaleLinear().domain([0, max]).range([top + panelH, top]);
        const bar = soft.append("g");
        bar.selectAll("rect")
          .data(levels)
          .join("rect")
          .attr("x", barX)
          .attr("width", barW)
          .attr("y", (l) => cb(l + step))
          .attr("height", (l) => cb(l) - cb(l + step) + 0.3)
          .attr("fill", (l) => color(l));
        soft.append("rect")
          .attr("x", barX).attr("y", top).attr("width", barW).attr("height", panelH)
          .attr("fill", "none").attr("stroke", GREY).attr("stroke-width", 0.5);
        soft.append("g")
          .attr("transform", `translate(${barX + barW},0)`)
          .call(d3.axisRight(cb)
            .tickValues(isResidual ? residualTicks : velocityTicks)
            .tickFormat(d3.format(isResidual ? ".2f" : ".1f") as any)
            .tickSize(1.2).tickPadding(1.2))
          .call(styleAxis);

        // titles
        if (isResidual) {
          const t = soft.append("text")
            .attr("x", left + panelW / 2)
            .attr("y", top - 2.8)
            .attr("text-anchor", "middle")
            .attr("font-family", SERIF)
            .attr("font-size", 6.7)
            .attr("fill", "#222");
          t.append("tspan").text(c === 0 ? `PDEs residual after ${iterations[c]} ` : `${iterations[c]} `);
          t.append("tspan").attr("font-style", "italic").text("k");
          if (c === 0) t.append("tspan").text(" iter.");
        } else if (c === 0) {
          const t = soft.append("text")
            .attr("x", left + panelW / 2)
            .attr("y", top - 2.6)
            .attr("text-anchor", "middle")
            .attr("font-family", SERIF)
            .attr("font-size", 6.9)
            .attr("fill", "#222");
          t.append("tspan").text("|");
          t.append("tspan").attr("font-style", "italic").text("ū");
          t.append("tspan").text("|");
        }
      });
    });

    // separators and captions
    [188.5, 223.3, 412.7].forEach((ly) => {
      soft.append("line")
        .attr("x1", 2).attr("x2", 683).attr("y1", ly).attr("y2", ly)
        .attr("stroke", "#bdbdbd").attr("stroke-width", 0.9);
    });
    const captions = [
      { main: "(a) LSA-PINN ", extra: "(BCXN-ND)", x: 345.5, y: 207.5 },
      { main: "(b) PINN ", extra: "(ND)", x: 345.5, y: 431 },
    ];
    captions.forEach((cap) => {
      const t = soft.append("text")
        .attr("x", cap.x).attr("y", cap.y)
        .attr("text-anchor", "middle")
        .attr("font-family", "'Liberation Serif', serif")
        .attr("font-size", 13.7)
        .attr("fill", "#222");
      t.append("tspan").text(cap.main);
      t.append("tspan").attr("font-style", "italic").text(cap.extra);
    });
  }, []);

  return (
    <svg
      ref={ref}
      width={683}
      height={440}
      style={{ position: "absolute", left: 0, top: 0, background: "#fff" }}
    />
  );
};

export default App;
